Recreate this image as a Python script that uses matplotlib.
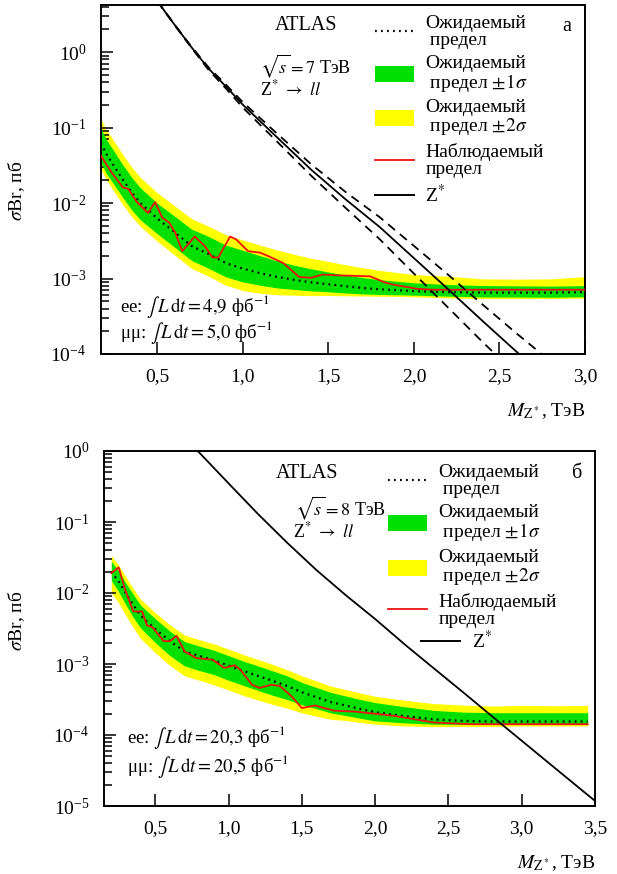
import numpy as np
import matplotlib
matplotlib.use("Agg")
import matplotlib.pyplot as plt
from matplotlib.lines import Line2D
from matplotlib.patches import Patch
from matplotlib.ticker import LogLocator, NullFormatter, FixedLocator, FixedFormatter

# ---------------------------------------------------------------------------
# Data: 7 TeV (panel a)
# ---------------------------------------------------------------------------
m7 = [0.17, 0.2, 0.25, 0.3, 0.35, 0.4, 0.5, 0.6, 0.7, 0.8, 0.9, 1.0, 1.1, 1.2,
      1.3, 1.4, 1.5, 1.6, 1.7, 1.8, 1.9, 2.0, 2.2, 2.4, 2.6, 2.8, 3.0]
exp7 = [0.062, 0.045, 0.030, 0.020, 0.0138, 0.0100, 0.0062, 0.0041, 0.0027, 0.0021,
        0.0016, 0.00135, 0.00118, 0.00105, 0.00096, 0.00089, 0.00084, 0.00079,
        0.00075, 0.00072, 0.00070, 0.00068, 0.00066, 0.00065, 0.00065, 0.00065, 0.00066]
p2_7 = [0.130, 0.095, 0.064, 0.043, 0.0298, 0.0218, 0.0136, 0.0092, 0.0062, 0.0049,
        0.0038, 0.00324, 0.00277, 0.00238, 0.00209, 0.00185, 0.00168, 0.00152,
        0.00139, 0.00128, 0.00120, 0.00113, 0.00107, 0.00099, 0.00098, 0.00099, 0.00106]
p1_7 = [0.096, 0.070, 0.047, 0.0315, 0.0218, 0.0159, 0.0099, 0.0067, 0.0045, 0.0036,
        0.00277, 0.00236, 0.00201, 0.00171, 0.00150, 0.00134, 0.00122, 0.00111,
        0.00103, 0.000965, 0.000917, 0.000877, 0.000832, 0.000806, 0.00080, 0.000793, 0.000805]
m1_7 = [0.0344, 0.025, 0.0170, 0.0116, 0.0081, 0.0060, 0.0039, 0.0026, 0.00173, 0.00136,
        0.00105, 0.00090, 0.000814, 0.00075, 0.000716, 0.000685, 0.000667, 0.000642,
        0.000625, 0.000615, 0.000609, 0.000602, 0.000584, 0.00057, 0.00057, 0.000565, 0.000574]
m2_7 = [0.028, 0.0205, 0.0138, 0.0093, 0.0066, 0.0049, 0.0031, 0.00205, 0.00136, 0.00107,
        0.000816, 0.000692, 0.000638, 0.00061, 0.00060, 0.000593, 0.000596, 0.00059,
        0.000586, 0.000581, 0.000579, 0.000571, 0.000555, 0.000542, 0.000542, 0.000542, 0.00055]

m7_obs = [0.17, 0.234, 0.299, 0.328, 0.38, 0.445, 0.486, 0.528, 0.569, 0.603, 0.645,
          0.718, 0.776, 0.822, 0.856, 0.925, 0.96, 1.03, 1.1, 1.144, 1.236, 1.328,
          1.397, 1.466, 1.558, 1.742, 1.834, 1.88, 2.018, 2.11, 3.0]
obs7 = [0.042, 0.025, 0.016, 0.0155, 0.0103, 0.0074, 0.0103, 0.0064, 0.0055, 0.0041,
        0.0023, 0.0036, 0.0027, 0.0019, 0.0019, 0.0036, 0.0033, 0.0023, 0.0022, 0.0020,
        0.0016, 0.00105, 0.00102, 0.00113, 0.0011, 0.00107, 0.00088, 0.00083, 0.00073,
        0.00071, 0.00071]

m7_th = [0.5, 0.6, 0.7, 0.8, 0.9, 1.0, 1.2, 1.4, 1.6, 1.8, 2.0, 2.2, 2.4, 2.6, 2.7, 2.8]
th7 = [4.7, 2.3, 1.15, 0.6, 0.35, 0.2, 0.074, 0.0275, 0.0112, 0.0048, 0.00186,
       0.00072, 0.000275, 0.000107, 6.8e-5, 4.2e-5]
th7_up = [4.7, 2.32, 1.17, 0.624, 0.371, 0.216, 0.0829, 0.0325, 0.014, 0.00648, 0.0027,
          0.00112, 0.000454, 0.000187, 0.000122, 7.8e-5]
th7_dn = [4.7, 2.28, 1.13, 0.577, 0.33, 0.183, 0.0649, 0.0229, 0.00862, 0.00331,
          0.00116, 0.000411, 0.000145, 5.35e-5, 3.3e-5, 2.0e-5]

# ---------------------------------------------------------------------------
# Data: 8 TeV (panel б)
# ---------------------------------------------------------------------------
m8 = [0.2, 0.25, 0.3, 0.35, 0.4, 0.5, 0.6, 0.7, 0.8, 0.9, 1.0, 1.1, 1.2, 1.3, 1.4,
      1.5, 1.6, 1.7, 1.8, 1.9, 2.0, 2.2, 2.4, 2.6, 2.8, 3.0, 3.2, 3.45]
exp8 = [0.020, 0.0145, 0.0098, 0.0068, 0.0048, 0.0031, 0.0021, 0.0015, 0.0013, 0.00113,
        0.00095, 0.0008, 0.00068, 0.00058, 0.00049, 0.0004, 0.00034, 0.00029, 0.00026,
        0.000232, 0.00021, 0.000185, 0.000166, 0.000158, 0.000155, 0.000155, 0.000155, 0.000155]
p2_8 = [0.034, 0.0247, 0.0167, 0.01156, 0.00816, 0.00527, 0.00357, 0.00255, 0.00221,
        0.00192, 0.00162, 0.00136, 0.00116, 0.00099, 0.00083, 0.00068, 0.000578, 0.000487,
        0.000437, 0.00039, 0.000351, 0.000309, 0.000277, 0.000264, 0.000255, 0.000262,
        0.000258, 0.00026]
p1_8 = [0.028, 0.0203, 0.0137, 0.00952, 0.00672, 0.00434, 0.0029, 0.00207, 0.00179,
        0.00156, 0.00131, 0.0011, 0.00094, 0.0008, 0.00068, 0.00055, 0.000466, 0.000397,
        0.000354, 0.000316, 0.000286, 0.00025, 0.000222, 0.00021, 0.000206, 0.000206,
        0.000206, 0.000206]
m1_8 = [0.015, 0.0104, 0.00676, 0.00453, 0.0032, 0.0020, 0.00131, 0.00094, 0.00081,
        0.00071, 0.00059, 0.0005, 0.000425, 0.000363, 0.000316, 0.000267, 0.000234,
        0.000204, 0.000188, 0.000172, 0.000158, 0.000148, 0.000142, 0.000141, 0.000144,
        0.000145, 0.000145, 0.000145]
m2_8 = [0.010, 0.00725, 0.00478, 0.00324, 0.00229, 0.00144, 0.00095, 0.00068, 0.00059,
        0.00051, 0.00043, 0.00036, 0.00031, 0.00027, 0.000239, 0.000205, 0.000184,
        0.000166, 0.00016, 0.00015, 0.000142, 0.000134, 0.000131, 0.000132, 0.000132,
        0.000134, 0.000134, 0.000134]

m8_obs = [0.2, 0.25, 0.295, 0.35, 0.41, 0.443, 0.48, 0.557, 0.6, 0.645, 0.7, 0.78, 0.89,
          0.97, 1.04, 1.08, 1.16, 1.21, 1.29, 1.35, 1.43, 1.5, 1.59, 1.72, 1.86, 2.13,
          2.4, 2.66, 3.0, 3.45]
obs8 = [0.019, 0.023, 0.011, 0.0055, 0.0055, 0.0035, 0.0033, 0.0021, 0.0021, 0.0025,
        0.0015, 0.00121, 0.00115, 0.00088, 0.00096, 0.00083, 0.00051, 0.00046, 0.00051,
        0.00049, 0.00035, 0.00024, 0.00026, 0.00022, 0.000214, 0.000186, 0.00015,
        0.000142, 0.000142, 0.000142]

m8_th = [0.7, 0.8, 1.0, 1.2, 1.4, 1.6, 1.8, 2.0, 2.2, 2.4, 2.6, 2.84, 3.0, 3.2, 3.4, 3.5]
th8 = [1.5, 0.95, 0.35, 0.13, 0.051, 0.021, 0.0093, 0.0043, 0.0019, 0.00087, 0.0004,
       0.000155, 8.3e-5, 3.8e-5, 1.74e-5, 1.18e-5]

# axis ticks / labels
x7_ticks = [0.5, 1.0, 1.5, 2.0, 2.5, 3.0]
x8_ticks = [0.5, 1.0, 1.5, 2.0, 2.5, 3.0, 3.5]

LEG_LABELS = ["Ожидаемый\n предел", "Ожидаемый\n предел $\\pm1\\sigma$",
              "Ожидаемый\n предел $\\pm2\\sigma$", "Наблюдаемый\nпредел", "Z$^{*}$"]

# ---------------------------------------------------------------------------
# Style
# ---------------------------------------------------------------------------
plt.rcParams.update({
    "font.family": ["Liberation Serif", "DejaVu Serif"],
    "mathtext.fontset": "stix",
    "font.size": 13,
})

GREEN = "#00e000"
YELLOW = "#ffff00"
RED = "#ee1111"
DOTS = (0, (0.8, 1.9))

fig = plt.figure(figsize=(6.17, 8.74), dpi=100)
ax1 = fig.add_axes([101 / 617, 1 - 354 / 874, 484 / 617, 349 / 874])
ax2 = fig.add_axes([104 / 617, 1 - 806 / 874, 491 / 617, 355 / 874])


def base_panel(ax, m, exp, p1, p2, m1, m2, mo, obs):
    ax.fill_between(m, m2, p2, color=YELLOW, lw=0, zorder=1)
    ax.fill_between(m, m1, p1, color=GREEN, lw=0, zorder=2)
    ax.plot(m, exp, color="black", lw=1.6, linestyle=DOTS, zorder=3)
    ax.plot(mo, obs, color=RED, lw=1.3, zorder=4)


def style_axes(ax, xlim, ylim, xticks):
    ax.set_yscale("log")
    ax.set_xlim(*xlim)
    ax.set_ylim(*ylim)
    ax.xaxis.set_major_locator(FixedLocator(xticks))
    ax.xaxis.set_major_formatter(FixedFormatter([f"{v:.1f}".replace(".", ",") for v in xticks]))
    ax.yaxis.set_major_locator(LogLocator(base=10, numticks=20))
    ax.yaxis.set_minor_locator(LogLocator(base=10, subs=np.arange(2, 10), numticks=20))
    ax.yaxis.set_minor_formatter(NullFormatter())
    ax.tick_params(which="both", direction="in", top=False, right=False,
                   width=1.1, labelsize=14)
    ax.tick_params(which="major", length=8.5, pad=10.5)
    ax.tick_params(which="minor", length=5.5)
    for s in ax.spines.values():
        s.set_linewidth(1.4)


def legend_handles():
    return [
        Line2D([], [], color="black", lw=1.6, linestyle=DOTS),
        Patch(facecolor=GREEN, edgecolor="none"),
        Patch(facecolor=YELLOW, edgecolor="none"),
        Line2D([], [], color=RED, lw=1.3),
        Line2D([], [], color="black", lw=1.4),
    ]


LEG_KW = dict(frameon=False, fontsize=14, handlelength=2.0, handleheight=0.9,
              handletextpad=0.6, labelspacing=0.3, borderpad=0, borderaxespad=0)


def fix_spacing(leg):
    for t in leg.get_texts():
        t.set_linespacing(1.0)


# ---------------------------------------------------------------------------
# Panel a: 7 TeV
# ---------------------------------------------------------------------------
base_panel(ax1, m7, exp7, p1_7, p2_7, m1_7, m2_7, m7_obs, obs7)
ax1.plot(m7_th, th7, color="black", lw=1.3, zorder=5)
ax1.plot(m7_th, th7_up, color="black", lw=1.3, linestyle=(0, (5, 3.5)), zorder=5)
ax1.plot(m7_th, th7_dn, color="black", lw=1.3, linestyle=(0, (5, 3.5)), zorder=5)
style_axes(ax1, (0.17, 3.0), (1e-4, 4.2), x7_ticks)
leg1 = ax1.legend(legend_handles(), LEG_LABELS, loc="upper left",
                  bbox_to_anchor=(0.566, 0.972), **LEG_KW)
fix_spacing(leg1)

ax1.text(0.3595, 0.94, "ATLAS", transform=ax1.transAxes, fontsize=14.5, va="center")
ax1.text(0.3285, 0.804, "$\\sqrt{s} = 7$ ТэВ", transform=ax1.transAxes,
         fontsize=13, va="baseline")
ax1.text(0.3285, 0.742, "Z$^{*}$ $\\rightarrow$ $ll$", transform=ax1.transAxes,
         fontsize=13, va="baseline")
ax1.text(0.963, 0.937, "а", transform=ax1.transAxes, fontsize=14.5, ha="center", va="center")
ax1.text(0.039, 0.135, "ee: $\\int\\, L\\,\\mathrm{d}t = 4{,}9$ фб$^{-1}$",
         transform=ax1.transAxes, fontsize=13.5, va="center")
ax1.text(0.039, 0.063, "μμ: $\\int\\, L\\,\\mathrm{d}t = 5{,}0$ фб$^{-1}$",
         transform=ax1.transAxes, fontsize=13.5, va="center")
ax1.set_ylabel("$\\sigma$Br, пб", fontsize=14)
ax1.yaxis.set_label_coords(-0.153, 0.467)
ax1.set_xlabel("$M_{\\mathrm{Z}^*}$, ТэВ", fontsize=14, ha="right", va="center")
ax1.xaxis.set_label_coords(1.0, -0.165)

# ---------------------------------------------------------------------------
# Panel б: 8 TeV
# ---------------------------------------------------------------------------
base_panel(ax2, m8, exp8, p1_8, p2_8, m1_8, m2_8, m8_obs, obs8)
ax2.plot(m8_th, th8, color="black", lw=1.3, zorder=5)
style_axes(ax2, (0.15, 3.5), (1e-5, 1.0), x8_ticks)
h2 = legend_handles()
leg2 = ax2.legend(h2[:4], LEG_LABELS[:4], loc="upper left",
                  bbox_to_anchor=(0.578, 0.963), **LEG_KW)
fix_spacing(leg2)
ax2.add_artist(leg2)
ax2.legend(h2[4:], LEG_LABELS[4:], loc="center left",
           bbox_to_anchor=(0.6456, 0.465), **LEG_KW)

ax2.text(0.35, 0.938, "ATLAS", transform=ax2.transAxes, fontsize=14.5, va="center")
ax2.text(0.389, 0.818, "$\\sqrt{s} = 8$ ТэВ", transform=ax2.transAxes,
         fontsize=13, va="baseline")
ax2.text(0.385, 0.758, "Z$^{*}$ $\\rightarrow$ $ll$", transform=ax2.transAxes,
         fontsize=13, va="baseline")
ax2.text(0.963, 0.938, "б", transform=ax2.transAxes, fontsize=14.5, ha="center", va="center")
ax2.text(0.047, 0.194, "ee: $\\int\\, L\\,\\mathrm{d}t = 20{,}3$ фб$^{-1}$",
         transform=ax2.transAxes, fontsize=13.5, va="center")
ax2.text(0.047, 0.11, "μμ: $\\int\\, L\\,\\mathrm{d}t = 20{,}5$ фб$^{-1}$",
         transform=ax2.transAxes, fontsize=13.5, va="center")
ax2.set_ylabel("$\\sigma$Br, пб", fontsize=14)
ax2.yaxis.set_label_coords(-0.157, 0.521)
ax2.set_xlabel("$M_{\\mathrm{Z}^*}$, ТэВ", fontsize=14, ha="right", va="center")
ax2.xaxis.set_label_coords(1.0, -0.16)

fig.savefig("out.png", dpi=100)
